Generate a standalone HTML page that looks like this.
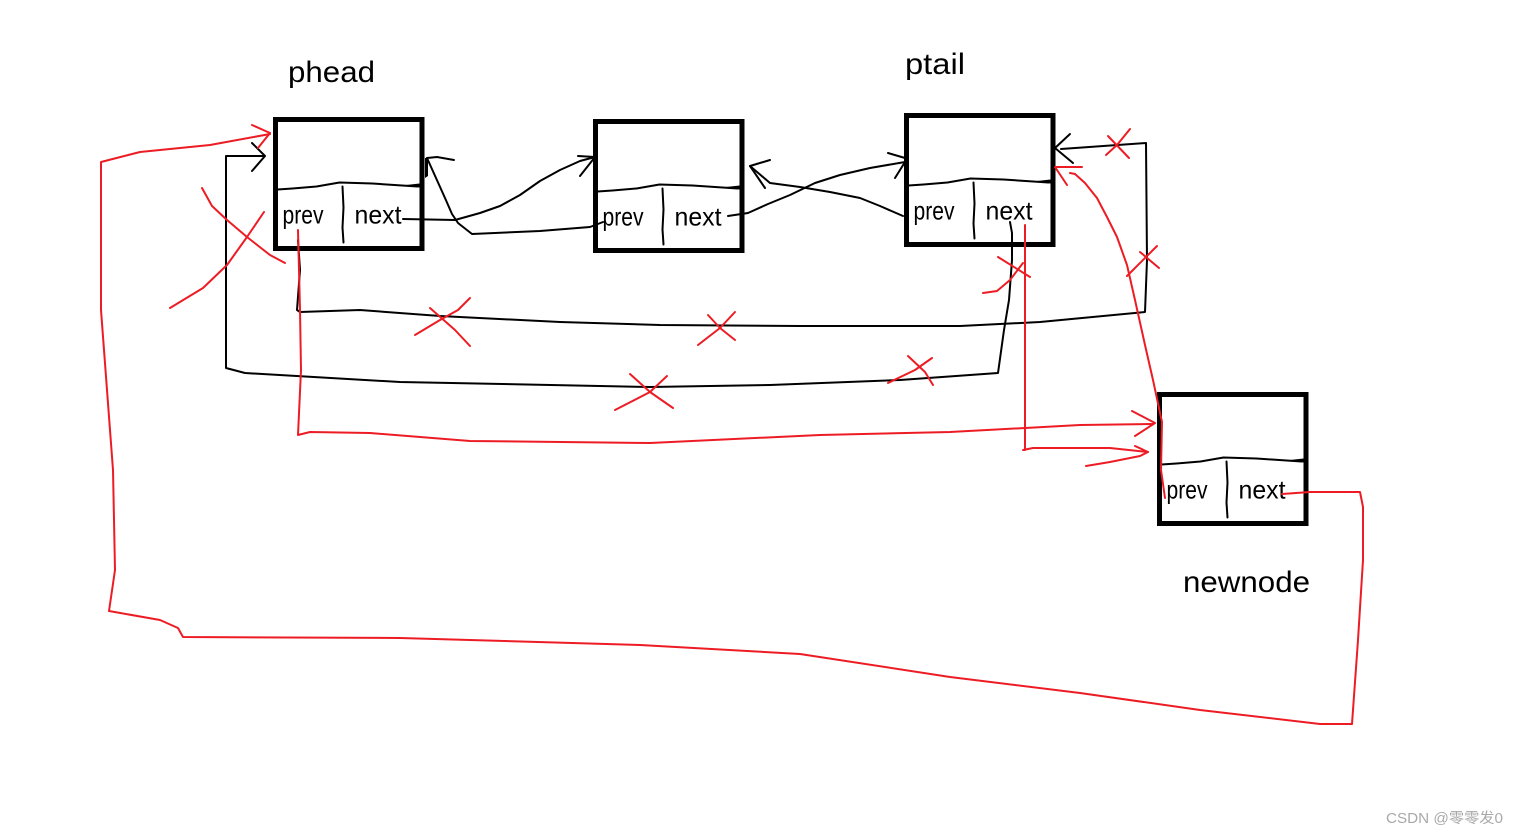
<!DOCTYPE html>
<html>
<head>
<meta charset="utf-8">
<style>
html,body{margin:0;padding:0;background:#fff;width:1518px;height:836px;overflow:hidden}
svg{display:block}
.k{fill:none;stroke:#000;stroke-width:2;stroke-linejoin:round;stroke-linecap:round}
.r{fill:none;stroke:#ed1c24;stroke-width:2;stroke-linejoin:round;stroke-linecap:round}
.box{fill:none;stroke:#000;stroke-width:5}
.lbl{font-family:"Liberation Sans",sans-serif;font-size:30px;fill:#000}
.hand{font-family:"Liberation Sans",sans-serif;font-size:26px;fill:#000}
.wm{font-family:"Liberation Sans","Noto Sans CJK SC",sans-serif;font-size:14.5px;fill:#a9a9a9}
</style>
</head>
<body>
<svg width="1518" height="836" viewBox="0 0 1518 836" xmlns="http://www.w3.org/2000/svg">
<defs>
<g id="node">
  <rect class="box" x="2" y="2" width="146.5" height="129"/>
  <path class="k" d="M4 72L19 71L43 69L66 65L99 66L144 69"/>
  <path d="M128 68L146 66L146 70Z" fill="#000"/>
  <path class="k" d="M69 69L70 90L69 110L70 125"/>
  <text class="hand" x="9" y="106" textLength="41" lengthAdjust="spacingAndGlyphs">prev</text>
  <text class="hand" x="81" y="106" textLength="47" lengthAdjust="spacingAndGlyphs">next</text>
</g>
</defs>

<use href="#node" x="273.5" y="117.5"/>
<use href="#node" x="593.5" y="119.5"/>
<use href="#node" x="904.5" y="113.5"/>
<use href="#node" x="1157.5" y="392.5"/>

<text class="lbl" x="288" y="82" textLength="87" lengthAdjust="spacingAndGlyphs">phead</text>
<text class="lbl" x="905" y="74" textLength="60" lengthAdjust="spacingAndGlyphs">ptail</text>
<text class="lbl" x="1183" y="592" textLength="127" lengthAdjust="spacingAndGlyphs">newnode</text>

<!-- black connectors -->
<path class="k" d="M403 219L455 220L480 213L500 206L520 195L540 181L560 170L580 161L595 157"/>
<path class="k" d="M578 156L595 157L580 176"/>
<path d="M425 158L428 158L428 176L425 178Z" fill="#000"/>
<path class="k" d="M427 158L436 178L445 198L452 214L458 223L472 234L540 231L590 227L603 222"/>
<path class="k" d="M454 160L437 157L427 158"/>
<path class="k" d="M728 216L748 213L768 204L790 195L815 183L840 175L870 168L905 162"/>
<path class="k" d="M888 153L905 158M905 162L895 178"/>
<path class="k" d="M903 216L880 206L860 198L830 192L800 187L770 183L750 166"/>
<path class="k" d="M770 160L750 166L765 188"/>
<path class="k" d="M298 240L300 270L297 310L300 312L360 310L440 316L560 322L660 325L800 326L960 326L1040 322L1145 312L1147 260L1146 143L1061 149"/>
<path class="k" d="M1070 134L1055 148L1073 163"/>
<path class="k" d="M1010 222L1012 233L1012 260L1009 300L1004 330L998 373L900 380L770 385L650 387L400 382L245 373L226 368L226 156L264 156"/>
<path class="k" d="M252 143L265 156L252 171"/>

<!-- red connectors -->
<path class="r" d="M298 230L300 310L301 370L298 435L310 432L370 433L470 441L650 443L820 435L950 432L1080 425L1153 424"/>
<path class="r" d="M1132 411L1155 423L1135 436"/>
<path class="r" d="M1025 225L1025 450L1023 450L1033 448L1110 448L1148 452"/>
<path class="r" d="M1135 446L1148 452L1140 456L1110 462L1086 466"/>
<path class="r" d="M1165 498L1161 470L1162 422L1153 380L1145 345L1135 300L1127 265L1117 237L1107 217L1097 198L1085 183L1075 174L1070 173"/>
<path class="r" d="M1082 167L1055 167L1067 185"/>
<path class="r" d="M1282 494L1310 492L1360 492L1363 507L1363 560L1358 640L1352 724L1320 724L1200 710L1080 693L950 677L800 654L640 645L400 638L183 637L178 628L160 620L109 611L115 570L113 470L101 310L101 162L140 152L210 145L270 134"/>
<path class="r" d="M252 125L270 133L258 148"/>

<!-- crosses -->
<path class="r" d="M202 188L212 206L227 220L247 237L270 255L285 263"/>
<path class="r" d="M264 212L247 237L227 265L203 288L170 308"/>
<path class="r" d="M415 335L440 320L458 310L470 298M430 308L455 330L470 346"/>
<path class="r" d="M698 345L720 328L735 312M708 315L720 328L735 340"/>
<path class="r" d="M615 410L650 392L667 376M630 374L650 392L673 408"/>
<path class="r" d="M888 383L915 370L932 358M908 356L925 372L933 385"/>
<path class="r" d="M983 293L997 291L1010 280L1023 263M998 257L1030 277"/>
<path class="r" d="M1130 129L1117 145L1106 155M1108 136L1129 158"/>
<path class="r" d="M1127 276L1157 246M1140 252L1159 268"/>

<text class="wm" x="1386" y="823" textLength="117" lengthAdjust="spacingAndGlyphs">CSDN @零零发0</text>
</svg>
</body>
</html>
